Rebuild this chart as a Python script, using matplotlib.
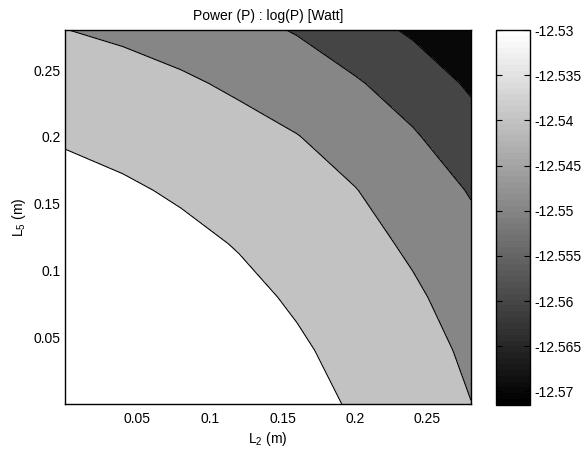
import numpy as np
import matplotlib
matplotlib.use("Agg")
import matplotlib.pyplot as plt
from matplotlib import colors as mcolors
from matplotlib import cm

plt.rcParams['font.family'] = ['Liberation Sans', 'DejaVu Sans']
plt.rcParams['mathtext.default'] = 'regular'
plt.rcParams['font.size'] = 10

# grid of lengths (m)
L2 = [0.0, 0.04, 0.08, 0.12, 0.16, 0.20, 0.24, 0.28]
L5 = [0.0, 0.04, 0.08, 0.12, 0.16, 0.20, 0.24, 0.28]

# log10 of the power [W], one row per L5 value
logP = [
    [-12.5300, -12.5306, -12.5321, -12.5343, -12.5373, -12.5408, -12.5455, -12.5499],
    [-12.5306, -12.5315, -12.5332, -12.5357, -12.5388, -12.5427, -12.5469, -12.5514],
    [-12.5321, -12.5332, -12.5351, -12.5378, -12.5411, -12.5449, -12.5488, -12.5535],
    [-12.5343, -12.5357, -12.5378, -12.5405, -12.5437, -12.5472, -12.5513, -12.5573],
    [-12.5373, -12.5388, -12.5411, -12.5437, -12.5465, -12.5497, -12.5549, -12.5606],
    [-12.5408, -12.5427, -12.5449, -12.5472, -12.5497, -12.5540, -12.5589, -12.5665],
    [-12.5455, -12.5469, -12.5488, -12.5513, -12.5549, -12.5589, -12.5650, -12.5712],
    [-12.5499, -12.5514, -12.5535, -12.5573, -12.5606, -12.5665, -12.5712, -12.5715],
]

niveis = [-12.57, -12.56, -12.55, -12.54]
ticks_eixo = [0.05, 0.1, 0.15, 0.2, 0.25]
rotulos_eixo = ['0.05', '0.1', '0.15', '0.2', '0.25']
ticks_cbar = [-12.53, -12.535, -12.54, -12.545, -12.55, -12.555, -12.56, -12.565, -12.57]
rotulos_cbar = ['-12.53', '-12.535', '-12.54', '-12.545', '-12.55', '-12.555', '-12.56', '-12.565', '-12.57']

X, Y = np.meshgrid(L2, L5)
Z = np.array(logP)
zmin, zmax = Z.min(), Z.max()

cmap = plt.get_cmap('gray', 64)
norm = mcolors.Normalize(vmin=zmin, vmax=zmax)

# each band takes the colour of its upper level
limites = [zmin] + niveis + [zmax]
cores_faixas = [cmap(norm(v)) for v in limites[1:]]

fig = plt.figure(figsize=(5.83, 4.54), dpi=100)
ax = fig.add_axes([65 / 583, 50 / 454, 406 / 583, 374 / 454])
cax = fig.add_axes([496 / 583, 49 / 454, 34 / 583, 375 / 454])

ax.contourf(X, Y, Z, levels=limites, colors=cores_faixas)
ax.contour(X, Y, Z, levels=niveis, colors='k', linewidths=0.8, linestyles='solid')

ax.set_xlim(0, 0.28)
ax.set_ylim(0, 0.28)
ax.set_xticks(ticks_eixo)
ax.set_xticklabels(rotulos_eixo)
ax.set_yticks(ticks_eixo)
ax.set_yticklabels(rotulos_eixo)
ax.tick_params(axis='x', length=0, pad=6)
ax.tick_params(axis='y', length=0, pad=3)
for s in ax.spines.values():
    s.set_linewidth(1.0)
ax.set_xlabel('L$_2$ (m)', labelpad=3)
ax.set_ylabel('L$_5$ (m)', labelpad=4)
ax.set_title('Power (P) : log(P) [Watt]', fontsize=10, pad=7)

sm = cm.ScalarMappable(norm=norm, cmap=cmap)
cb = fig.colorbar(sm, cax=cax)
cb.set_ticks(ticks_cbar)
cb.set_ticklabels(rotulos_cbar)
cb.outline.set_linewidth(1.0)
cax.tick_params(direction='in', left=True, right=True, length=4, width=0.8, pad=3)

fig.savefig('out.png', dpi=100)
